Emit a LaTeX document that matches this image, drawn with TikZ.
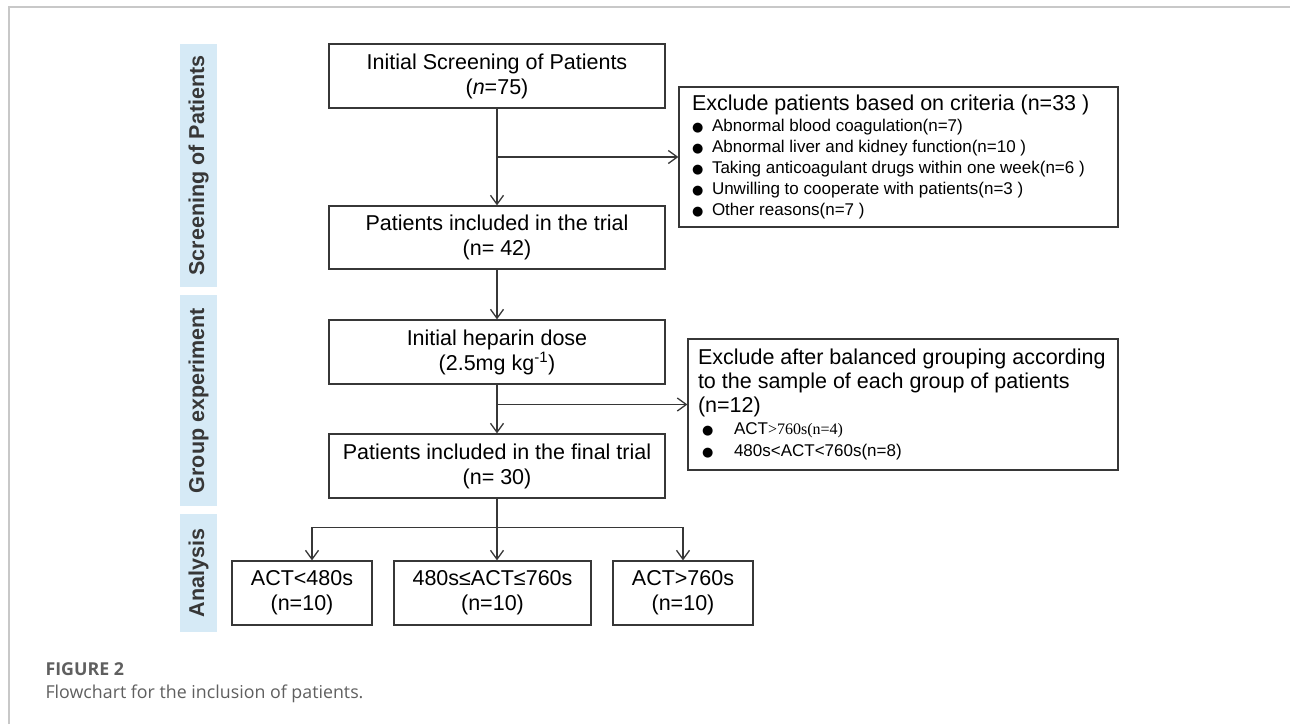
\documentclass[tikz,border=0pt]{standalone}
\usepackage{fontspec}
\setmainfont{Liberation Sans}
\newfontfamily\capfont{Open Sans}
\newfontfamily\timesfont{Liberation Serif}
\newfontfamily\symfont{DejaVu Sans}
\usetikzlibrary{arrows.meta}

\definecolor{bandblue}{RGB}{214,234,246}
\definecolor{bandtext}{RGB}{55,55,55}
\definecolor{linegray}{RGB}{55,55,55}
\definecolor{framegray}{RGB}{200,200,200}
\definecolor{capgray}{RGB}{95,95,95}

\newcommand{\exitem}[3]{\par\hspace*{#1}\makebox[#2][l]{{\symfont\fontsize{13}{13}\selectfont ●}}#3}

\begin{document}
\begin{tikzpicture}[x=1pt,y=1pt,
  box/.style={draw=linegray, line width=1.2pt, minimum width=336pt, minimum height=64pt,
    inner sep=0pt, align=center, font=\fontsize{21.5}{25}\selectfont},
  res/.style={box, minimum width=140pt},
  exbox/.style={draw=linegray, line width=1.2pt, inner ysep=0pt},
  band/.style={fill=bandblue, rotate=90, minimum height=37pt, inner sep=0pt,
    text=bandtext, font=\bfseries\fontsize{21.5}{25}\selectfont},
  arr/.style={draw=linegray, line width=1.3pt, -{Straight Barb[length=9pt,width=13pt]}}]
\useasboundingbox (0,0) rectangle (1290,-724);
\draw[framegray, line width=1.5pt] (9,-724) -- (9,-7) -- (1290,-7);

\node[band, minimum width=243pt] (scr) at (198.5,-165.5) {Screening of Patients};
\node[band, minimum width=211pt] (grp) at (198.5,-400.5) {Group experiment};
\node[band, minimum width=118pt] (ana) at (198.5,-573) {Analysis};

\node[box] (init) at (497,-76) {Initial Screening of Patients\\(\textit{n}=75)};
\node[box, minimum height=63pt] (incl) at (497,-237.5) {Patients included in the trial\\(n= 42)};
\node[box] (dose) at (497,-352) {Initial heparin dose\\(2.5mg kg\textsuperscript{-1})};
\node[box] (final) at (497,-466) {Patients included in the final trial\\(n= 30)};

\node[exbox, inner xsep=13pt, minimum width=439pt, minimum height=140pt] (exa) at (898.5,-157) {%
\begin{minipage}[t]{413pt}
\fontsize{21.5}{24}\selectfont Exclude patients based on criteria (n=33 )\par
\fontsize{17}{21}\selectfont
\exitem{0pt}{20pt}{Abnormal blood coagulation(n=7)}
\exitem{0pt}{20pt}{Abnormal liver and kidney function(n=10 )}
\exitem{0pt}{20pt}{Taking anticoagulant drugs within one week(n=6 )}
\exitem{0pt}{20pt}{Unwilling to cooperate with patients(n=3 )}
\exitem{0pt}{20pt}{Other reasons(n=7 )}
\end{minipage}};

\node[exbox, inner xsep=10pt, minimum width=430pt, minimum height=131pt] (exb) at (903,-404.5) {%
\begin{minipage}[t]{410pt}
\fontsize{21.5}{24}\selectfont Exclude after balanced grouping according\par
to the sample of each group of patients\par
(n=12)\par
\fontsize{17}{22}\selectfont
\exitem{4pt}{32pt}{ACT{\timesfont\fontsize{16}{22}\selectfont >760s(n=4)}}
\exitem{4pt}{32pt}{480s<ACT<760s(n=8)}
\end{minipage}};

\node[res] (lo) at (302,-593) {ACT<480s\\(n=10)};
\node[box, minimum width=197pt] (mid) at (492.5,-593) {480s≤ACT≤760s\\(n=10)};
\node[res] (hi) at (683,-593) {ACT>760s\\(n=10)};

\draw[arr] (init) -- (incl);
\draw[arr] (init.south |- exa.west) -- (exa.west);
\draw[arr] (incl) -- (dose);
\draw[arr] (dose) -- (final);
\draw[arr] (dose.south |- exb.west) -- (exb.west);
\coordinate (split) at ([yshift=-29pt]final.south);
\draw[draw=linegray, line width=1.3pt] (final.south) -- (split);
\draw[arr] (split) -| ([xshift=10pt]lo.north);
\draw[arr] (split) -- (split |- mid.north);
\draw[arr] (split) -| (hi.north);

\node[anchor=base west, text=capgray, font=\capfont\bfseries\fontsize{17.8}{21}\selectfont] (fig) at (42,-675) {FIGURE 2};
\node[anchor=base west, text=capgray, font=\capfont\fontsize{17.8}{21}\selectfont] (cap) at (42,-698) {Flowchart for the inclusion of patients.};
\end{tikzpicture}
\end{document}
